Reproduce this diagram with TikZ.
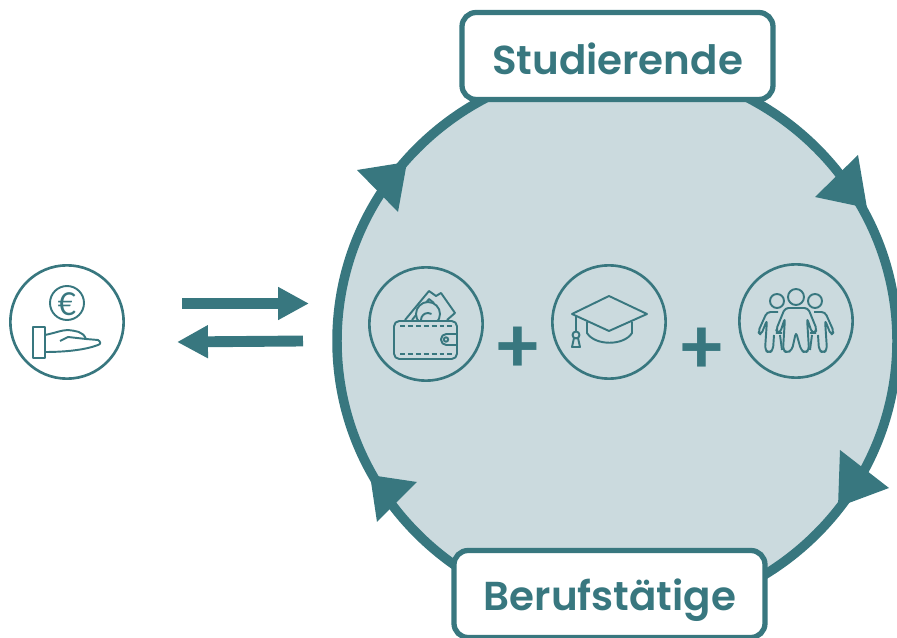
\documentclass[tikz,border=0pt]{standalone}
\usepackage{fontspec}
\setmainfont[Ligatures=NoCommon]{Lato}
\newfontfamily\plusfont{Lato Heavy}
\newfontfamily\boxfont{Poppins SemiBold}
\usepackage{tikz}
\usetikzlibrary{arrows.meta}

\definecolor{teal1}{HTML}{38777F}
\definecolor{teal2}{HTML}{CBDADE}

\tikzset{
  iconcircle/.style={circle, draw=teal1, line width=1.5pt, minimum size=64.5pt, inner sep=0pt},
  iconline/.style={draw=teal1, line width=1.1pt, line join=round},
  labelbox/.style={draw=teal1, fill=white, line width=3pt, rounded corners=8pt, minimum width=177pt, minimum height=49.5pt},
  labeltext/.style={text=teal1, inner sep=0pt, font=\fontsize{23}{26}\selectfont\boxfont},
  plussign/.style={text=teal1, inner sep=0pt, font=\fontsize{44}{44}\selectfont\plusfont},
  bigarrow/.style={draw=teal1, line width=6.2pt, -{Triangle[length=17.6pt,width=17.6pt]}},
}

\begin{document}
\begin{tikzpicture}[x=0.02cm, y=-0.02cm]

   \useasboundingbox (0,0) rectangle (897,638);

   % ring
   \filldraw[fill=teal2, draw=teal1, line width=5.4pt] (617,341) ellipse (280 and 275);

   \fill[teal1] (357,170) -- (407,162) -- (398,212) -- cycle;
   \fill[teal1] (858,155) -- (867,208) -- (815,197) -- cycle;
   \fill[teal1] (840,450) -- (889,488) -- (838,507) -- cycle;
   \fill[teal1] (370,475) -- (417,482) -- (377,522) -- cycle;

   % labels
   \node[labelbox] (studierendebox) at (617.5,56) {};
   \node[labeltext] (studierende) at (617.5,59) {Studierende};
   \node[labelbox] (berufsbox) at (609.5,594) {};
   \node[labeltext] (berufstaetige) at (610,600) {Berufstätige};

   % arrows
   \coordinate (arrowAstart) at (182,303.5);
   \coordinate (arrowAend) at (309,303.5);
   \coordinate (arrowBstart) at (303,341);
   \coordinate (arrowBend) at (177,342);
   \draw[bigarrow] (arrowAstart) -- (arrowAend);
   \draw[bigarrow] (arrowBstart) -- (arrowBend);

   % circles
   \node[iconcircle] (money) at (67,322) {};
   \node[iconcircle] (wallet) at (426,324) {};
   \node[iconcircle] (cap) at (609,322) {};
   \node[iconcircle] (people) at (796,321) {};

   \node[plussign] (plusA) at (518,350) {+};
   \node[plussign] (plusB) at (702,351) {+};

   % money icon
   \draw[iconline] (67,303) circle (17);
   \node[text=teal1, inner sep=0pt, font=\fontsize{18}{18}\selectfont] (euro) at (67,304) {€};
   \draw[iconline] (33,327) rectangle (45,358);
   \draw[iconline] (45,335) .. controls (55,333) and (62,330) .. (68,330) .. controls (75,331) and (83,331) .. (86,339) -- (98,340) .. controls (101,342) and (101,344) .. (98,345) .. controls (85,350) and (65,352) .. (45,352);
   \draw[iconline] (60,341) -- (68,337) -- (86,339);

   % wallet icon
   \draw[iconline] (405,320) -- (429,291) -- (436,296) -- (441,293) -- (455,313) -- (447,320);
   \draw[iconline] (412,320) -- (429,299) -- (434,303);
   \filldraw[iconline, fill=teal2] (428,314) circle (12);
   \draw[iconline] (421,320) arc (180:300:7);
   \draw[iconline, fill=teal2, rounded corners=3pt] (394,321) rectangle (457,359);
   \draw[iconline, dash pattern=on 2.8pt off 1.7pt] (400,326) -- (452,326);
   \draw[iconline, dash pattern=on 2.8pt off 1.7pt] (400,354) -- (452,354);
   \draw[iconline, rounded corners=3pt] (457,334) -- (441,334) -- (441,345) -- (457,345);
   \draw[iconline] (446,339.5) circle (2.2);

   % cap icon
   \draw[iconline] (572,314) -- (609,296) -- (647,314) -- (609,331) -- cycle;
   \draw[iconline] (587,322) -- (587,333) .. controls (595,346) and (624,346) .. (632,333) -- (632,322);
   \draw[iconline] (576,315) -- (576,332);
   \draw[iconline] (576,335) circle (3.5);
   \draw[iconline] (574,338) -- (578,338) -- (580,347) -- (572,347) -- cycle;

   % people icon
   \draw[iconline] (796,297) circle (8);
   \draw[iconline] (777,301) circle (7);
   \draw[iconline] (815,301) circle (7);
   \draw[iconline, rounded corners=2pt] (785,308) -- (776,330) -- (778,333) -- (780,333) -- (785,318) -- (783,350) -- (787,353) -- (792,350) -- (796,332) -- (801,350) -- (805,353) -- (809,350) -- (807,318) -- (812,333) -- (814,333) -- (817,330) -- (808,308) -- cycle;
   \draw[iconline, rounded corners=2pt] (778,312) -- (767,312) -- (758,332) -- (761,335) -- (767,320) -- (765,350) -- (769,353) -- (773,350) -- (774,335);
   \draw[iconline] (780,335) -- (782,350);
   \draw[iconline, rounded corners=2pt] (814,312) -- (825,312) -- (834,332) -- (831,335) -- (825,320) -- (827,350) -- (823,353) -- (819,350) -- (818,335);
   \draw[iconline] (812,335) -- (810,350);

\end{tikzpicture}
\end{document}
